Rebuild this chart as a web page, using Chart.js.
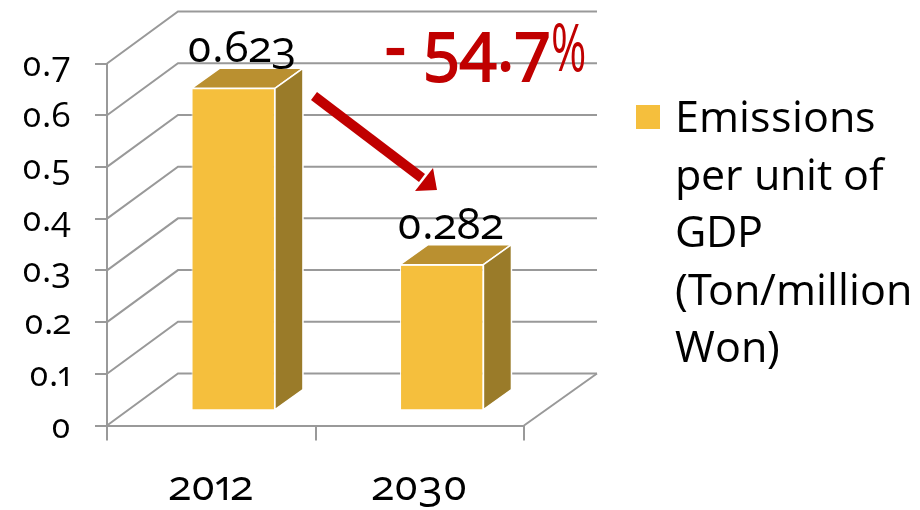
<!DOCTYPE html>
<html>
<head>
<meta charset="utf-8">
<script src="https://cdn.jsdelivr.net/npm/chart.js@4/dist/chart.umd.min.js"></script>
<style>
@font-face { font-family: "OldNums"; src: local("Open Sans"); font-feature-settings: "onum"; }
html, body { margin: 0; background: #fff; }
canvas { display: block; }
</style>
</head>
<body>
<canvas id="c" width="920" height="510"></canvas>
<script>
const years = ['2012', '2030'];
const emissions = [0.623, 0.282];
const legendLines = ['Emissions', 'per unit of', 'GDP', '(Ton/million', 'Won)'];
const changeLabel = '- 54.7';
const changeUnit = '%';

const FONT = '"OldNums", "Open Sans", sans-serif';
const GRID = '#999999';
const BAR = '#f5bf3d', BAR_TOP = '#ba9030', BAR_SIDE = '#9a7b29';
const RED = '#c00000';

// 3d look: wall depth, bar plane shift and bar depth
const WALL = {x: 71, y: -52};
const SHIFT = {x: 22, y: -15};
const DEPTH = {x: 28, y: -20};

function poly(ctx, pts, fill) {
    ctx.beginPath();
    pts.forEach((p, i) => i ? ctx.lineTo(p[0], p[1]) : ctx.moveTo(p[0], p[1]));
    ctx.closePath();
    ctx.fillStyle = fill;
    ctx.fill();
    ctx.strokeStyle = '#fff';
    ctx.lineWidth = 1.5;
    ctx.stroke();
}

function squeezed(ctx, text, font, x, y, sx) {
    ctx.save();
    ctx.translate(x, y);
    ctx.scale(sx, 1);
    ctx.font = font;
    ctx.fillText(text, 0, 0);
    ctx.restore();
}

const walls = {
    id: 'walls',
    beforeDatasetsDraw(chart) {
        const ctx = chart.ctx, y = chart.scales.y, a = chart.chartArea;
        ctx.save();
        ctx.strokeStyle = GRID;
        ctx.lineWidth = 2;
        y.ticks.forEach(t => {
            const py = y.getPixelForValue(t.value);
            ctx.beginPath();
            ctx.moveTo(a.left, py);
            ctx.lineTo(a.left + WALL.x, py + WALL.y);
            ctx.lineTo(a.right + WALL.x + 2, py + WALL.y);
            ctx.stroke();
        });
        // floor edge on the right
        ctx.beginPath();
        ctx.moveTo(a.right, a.bottom);
        ctx.lineTo(a.right + WALL.x + 2, a.bottom + WALL.y);
        ctx.stroke();
        ctx.restore();
    },
    beforeDatasetDraw(chart) {
        chart.ctx.save();
        chart.ctx.translate(SHIFT.x, SHIFT.y);
    },
    afterDatasetDraw(chart) {
        const ctx = chart.ctx;
        chart.getDatasetMeta(0).data.forEach(b => {
            const l = b.x - b.width / 2, r = b.x + b.width / 2;
            poly(ctx, [[l, b.y], [l + DEPTH.x, b.y + DEPTH.y], [r + DEPTH.x, b.y + DEPTH.y], [r, b.y]], BAR_TOP);
            poly(ctx, [[r, b.y], [r + DEPTH.x, b.y + DEPTH.y], [r + DEPTH.x, b.base + DEPTH.y], [r, b.base]], BAR_SIDE);
        });
        ctx.restore();
    },
    afterDraw(chart) {
        const ctx = chart.ctx;
        ctx.save();
        // value labels
        ctx.fillStyle = '#000';
        ctx.font = '44px ' + FONT;
        ctx.textAlign = 'center';
        ctx.textBaseline = 'alphabetic';
        chart.getDatasetMeta(0).data.forEach((b, i) => {
            ctx.fillText(String(emissions[i]), b.x + SHIFT.x + 8, b.y + SHIFT.y - 26);
        });
        // change annotation, squeezed to the narrower look of the original
        ctx.fillStyle = RED;
        ctx.textAlign = 'left';
        squeezed(ctx, changeLabel, 'bold 68px ' + FONT, 385, 70, 0.95);
        squeezed(ctx, changeUnit, '66px ' + FONT, 551, 71, 0.65);
        // arrow
        ctx.strokeStyle = RED;
        ctx.lineWidth = 10;
        ctx.beginPath();
        ctx.moveTo(314, 96);
        ctx.lineTo(422, 178);
        ctx.stroke();
        ctx.beginPath();
        ctx.moveTo(437, 190);
        ctx.lineTo(415, 191);
        ctx.lineTo(433, 168);
        ctx.closePath();
        ctx.fill();
        // legend
        ctx.fillStyle = BAR;
        ctx.fillRect(636, 105, 24, 24);
        ctx.fillStyle = '#000';
        ctx.font = '43px ' + FONT;
        legendLines.forEach((s, i) => ctx.fillText(s, 675, 132 + i * 57.5));
        ctx.restore();
    }
};

function draw() {
    new Chart(document.getElementById('c'), {
        type: 'bar',
        data: {
            labels: years,
            datasets: [{
                label: legendLines.join(' '),
                data: emissions,
                backgroundColor: BAR,
                borderColor: '#fff',
                borderWidth: 1,
                barPercentage: 0.4,
                categoryPercentage: 1
            }]
        },
        options: {
            responsive: false,
            animation: false,
            layout: {padding: {top: 63.5, right: 396, left: 0, bottom: 0}},
            plugins: {legend: {display: false}, tooltip: {enabled: false}},
            scales: {
                x: {
                    afterFit(s) { s.height = 84.5; },
                    border: {color: GRID, width: 2},
                    grid: {color: GRID, lineWidth: 2, drawOnChartArea: false, tickLength: 15},
                    ticks: {color: '#000', font: {family: FONT, size: 43}, padding: 22, maxRotation: 0}
                },
                y: {
                    min: 0,
                    max: 0.7,
                    afterFit(s) { s.width = 107; },
                    border: {color: GRID, width: 2},
                    grid: {color: GRID, lineWidth: 2, drawOnChartArea: false, tickLength: 12},
                    ticks: {color: '#000', font: {family: FONT, size: 35}, padding: 24, stepSize: 0.1, labelOffset: 3}
                }
            }
        },
        plugins: [walls]
    });
}

document.fonts.load('40px "OldNums"').then(draw, draw);
</script>
</body>
</html>
